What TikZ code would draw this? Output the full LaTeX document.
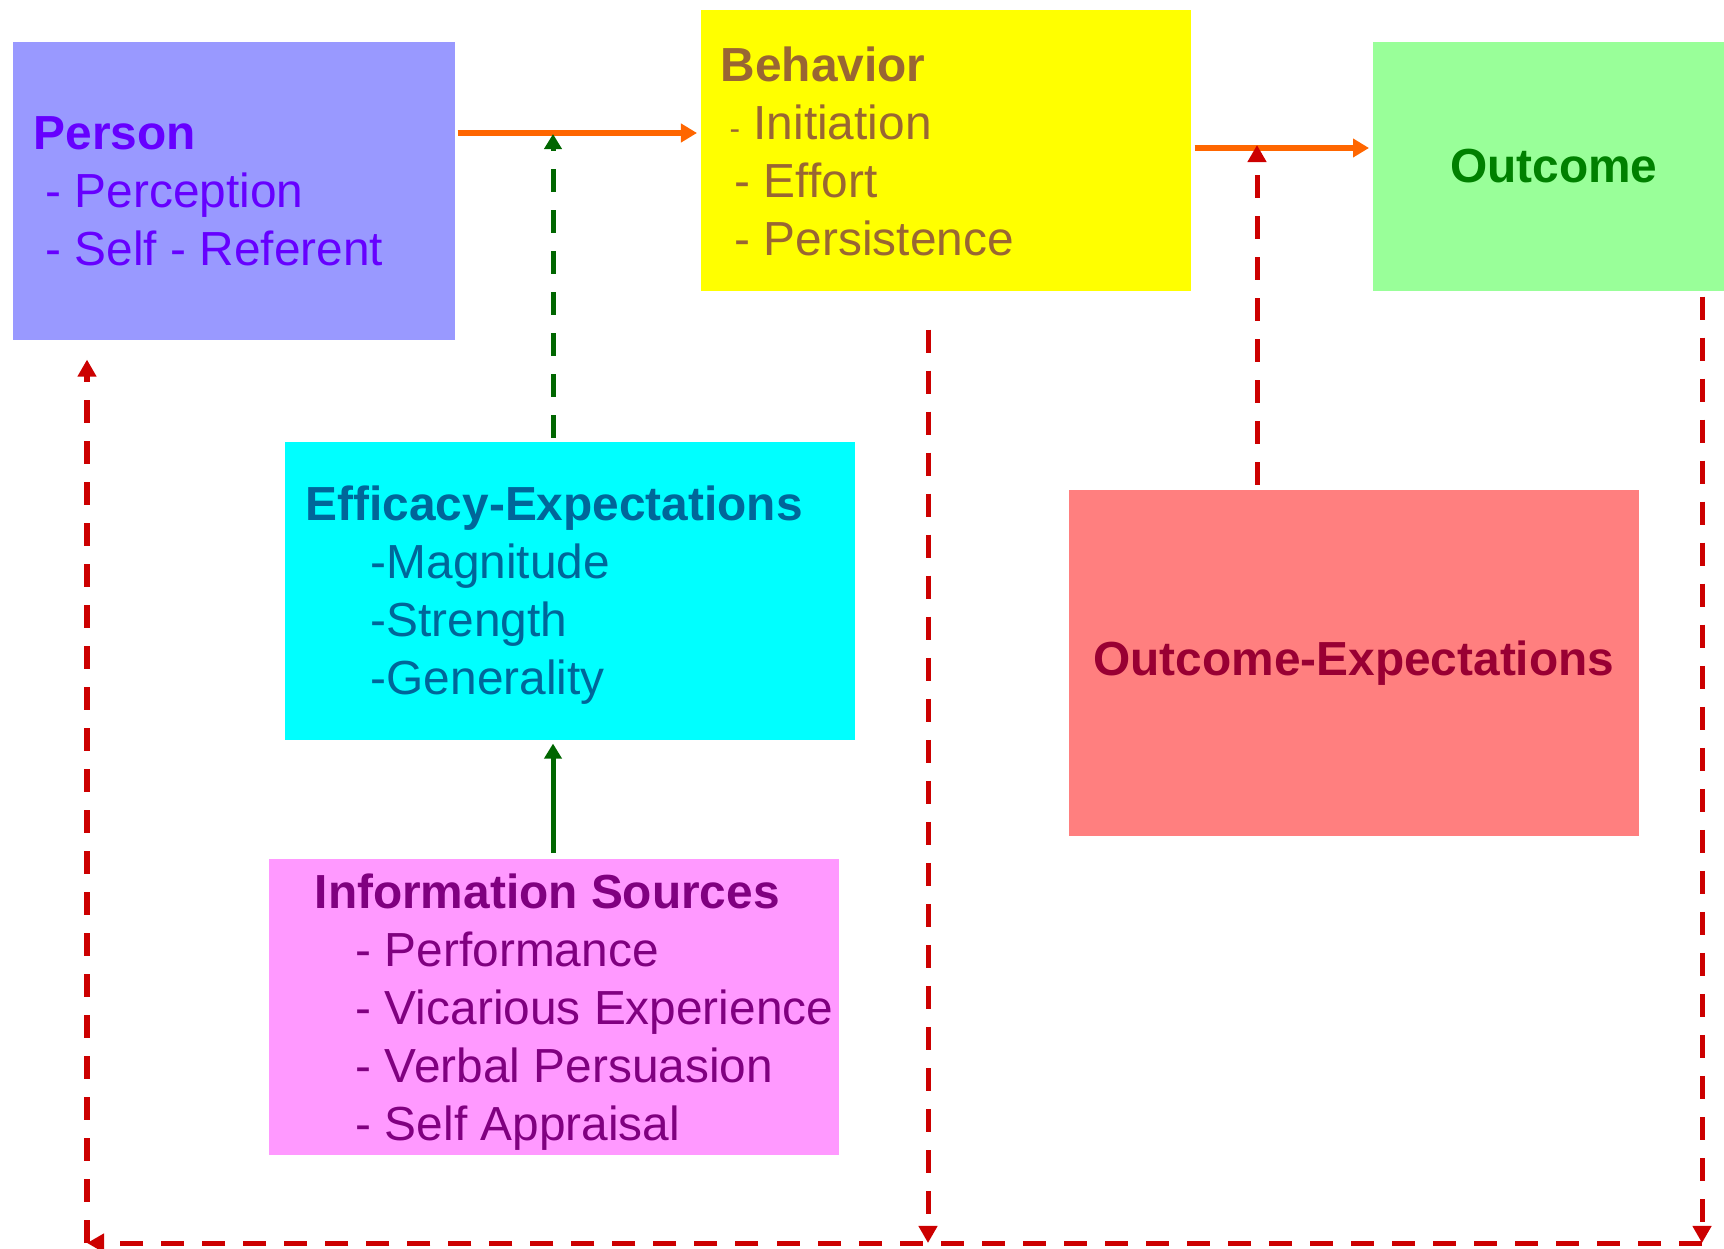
\documentclass[tikz,border=0pt]{standalone}
\usepackage{fontspec}
\setmainfont{Liberation Sans}
\usetikzlibrary{arrows.meta}

\definecolor{personbg}{HTML}{9999FF}
\definecolor{persontx}{HTML}{6600FF}
\definecolor{behavbg}{HTML}{FFFF00}
\definecolor{behavtx}{HTML}{996633}
\definecolor{outbg}{HTML}{99FF99}
\definecolor{outtx}{HTML}{008000}
\definecolor{effbg}{HTML}{00FFFF}
\definecolor{efftx}{HTML}{006699}
\definecolor{oexbg}{HTML}{FF7F7F}
\definecolor{oextx}{HTML}{990033}
\definecolor{infobg}{HTML}{FF99FF}
\definecolor{infotx}{HTML}{800080}
\definecolor{linkorange}{HTML}{FF6600}
\definecolor{linkgreen}{HTML}{006600}
\definecolor{linkred}{HTML}{CC0000}

\tikzset{
  box/.style={anchor=north west, inner sep=0pt, font=\fontsize{13.6}{16.5}\selectfont\bfseries},
  txt/.style={anchor=west, inner sep=0pt, align=left, font=\fontsize{13.6}{16.5}\selectfont},
  flow/.style={line width=0.06cm, linkorange, -{Triangle[length=0.16cm,width=0.18cm]}},
  eff/.style={line width=0.05cm, linkgreen, -{Triangle[length=0.15cm,width=0.17cm]}},
  fb/.style={line width=0.05cm, linkred, dash pattern=on 0.23cm off 0.18cm, -{Triangle[length=0.17cm,width=0.18cm]}}
}

\begin{document}
\begin{tikzpicture}[x=0.01cm,y=-0.01cm]
	\useasboundingbox (0,0) rectangle (1724,1249);
	% boxes
	\node[box, fill=personbg, minimum width=4.42cm, minimum height=2.98cm] (person) at (12,41) {};
	\node[box, fill=behavbg, minimum width=4.90cm, minimum height=2.81cm] (behavior) at (700,9) {};
	\node[box, fill=outbg, text=outtx, minimum width=3.52cm, minimum height=2.49cm] (outcome) at (1372,41) {\hspace*{0.1cm}Outcome};
	\node[box, fill=effbg, minimum width=5.70cm, minimum height=2.98cm] (efficacy) at (284,441) {};
	\node[box, fill=oexbg, text=oextx, minimum width=5.70cm, minimum height=3.46cm] (outexp) at (1068,489) {Outcome-Expectations};
	\node[box, fill=infobg, minimum width=5.70cm, minimum height=2.96cm] (info) at (268,858) {};
	% box texts
	\node[txt, text=persontx] (person-txt) at (33,191) {{\bfseries Person}\\
		\hspace*{0.12cm}- Perception\\
		\hspace*{0.12cm}- Self - Referent};
	\node[txt, text=behavtx] (behavior-txt) at (720,151) {{\bfseries Behavior}\\
		\hspace*{0.09cm}{\fontsize{9}{9}\selectfont -} Initiation\\
		\hspace*{0.14cm}- Effort\\
		\hspace*{0.14cm}- Persistence};
	\node[txt, text=efftx] (efficacy-txt) at (305,595) {{\bfseries Efficacy-Expectations}\\
		\hspace*{0.65cm}-Magnitude\\
		\hspace*{0.65cm}-Strength\\
		\hspace*{0.65cm}-Generality};
	\node[txt, text=infotx] (info-txt) at (314,1012) {{\bfseries Information Sources}\\
		\hspace*{0.41cm}- Performance\\
		\hspace*{0.41cm}- Vicarious Experience\\
		\hspace*{0.41cm}- Verbal Persuasion\\
		\hspace*{0.41cm}- Self Appraisal};
	% junctions and corners
	\coordinate (pb) at (553,133);
	\coordinate (bo) at (1257,148);
	\coordinate (bl) at (87,1243);
	\coordinate (bm) at (928,1243);
	\coordinate (br) at (1702,1243);
	% main flow
	\draw[flow, shorten <=0.02cm, shorten >=0.03cm] (person.east |- pb) -- (behavior.west |- pb);
	\draw[flow, shorten <=0.03cm, shorten >=0.03cm] (behavior.east |- bo) -- (outcome.west |- bo);
	\draw[eff, dash pattern=on 0.23cm off 0.18cm, shorten <=0.03cm, shorten >=0.01cm] (efficacy.north -| pb) -- (pb);
	\draw[eff, shorten <=0.05cm, shorten >=0.03cm] (info.north -| pb) -- (efficacy.south -| pb);
	\draw[fb, shorten <=0.04cm, shorten >=-0.03cm] (outexp.north -| bo) -- (bo);
	% feedback loop
	\draw[fb, shorten <=0.05cm] (outcome.south -| br) -- (br);
	\draw[fb, shorten <=0.38cm] (behavior.south -| bm) -- (bm);
	\draw[fb] (br) -- (bl);
	\draw[fb, shorten >=0.19cm] (bl) -- (person.south -| bl);
\end{tikzpicture}
\end{document}
